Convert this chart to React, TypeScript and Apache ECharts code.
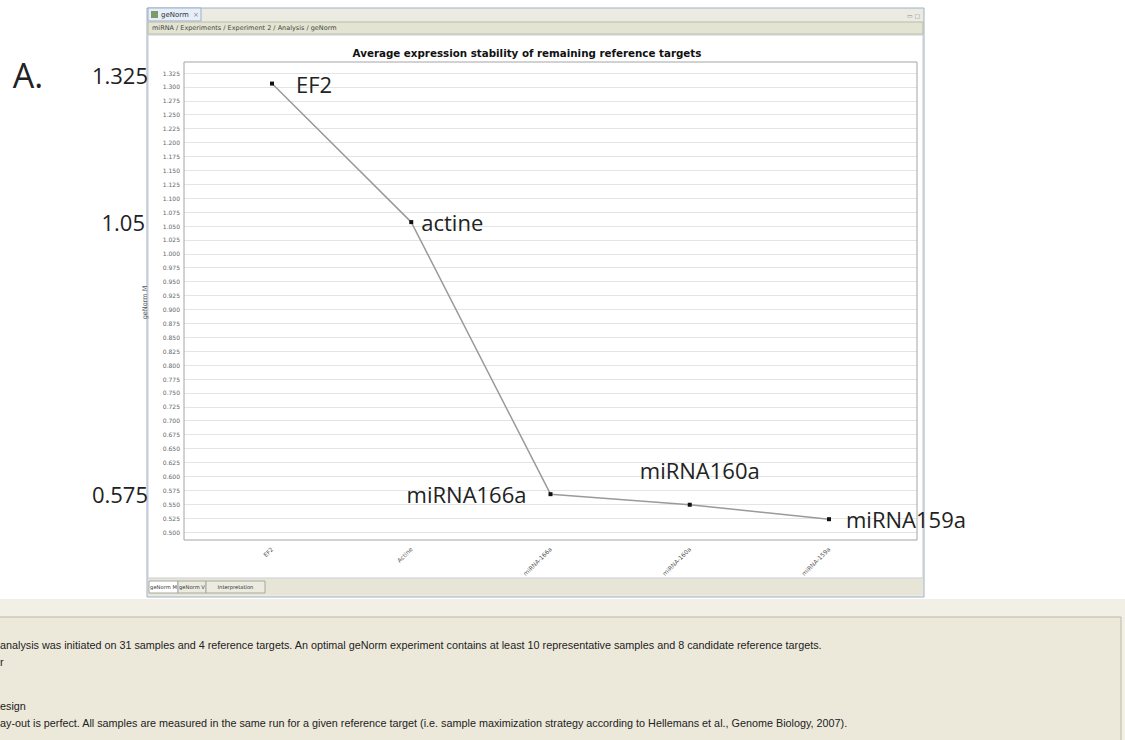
import React, { useEffect, useRef } from "react";
import * as echarts from "echarts";

const categories = ["EF2", "Actine", "miRNA-166a", "miRNA-160a", "miRNA-159a"];
const mValues = [1.306, 1.057, 0.568, 0.549, 0.523];
const annotations = ["EF2", "actine", "miRNA166a", "miRNA160a", "miRNA159a"];
const yMin = 0.5;
const yMax = 1.325;
const yStep = 0.025;
const valueCallouts = ["1.325", "1.05", "0.575"];
const chartTitle = "Average expression stability of remaining reference targets";
const yName = "geNorm M";
const breadcrumb = "miRNA / Experiments / Experiment 2 / Analysis / geNorm";
const bottomTabs = ["geNorm M", "geNorm V", "Interpretation"];
const panelLines = [
  "analysis was initiated on 31 samples and 4 reference targets. An optimal geNorm experiment contains at least 10 representative samples and 8 candidate reference targets.",
  "r",
  "esign",
  "ay-out is perfect. All samples are measured in the same run for a given reference target (i.e. sample maximization strategy according to Hellemans et al., Genome Biology, 2007).",
];

const W = 1125;
const H = 740;
const PL = 184, PR = 917, PT = 62, PB = 540; // plot frame
const GT = 73, GB = 532; // value range extent

export default function App() {
  const ref = useRef<HTMLDivElement>(null);
  useEffect(() => {
    if (!ref.current) return;
    const chart = echarts.init(ref.current, null, { renderer: "svg" });
    const labelCfg = [
      { position: "right", distance: 22 },
      { position: "right", distance: 8 },
      { position: "left", distance: 22 },
      { position: "top", distance: 22, offset: [10, 0] },
      { position: "right", distance: 15 },
    ];
    const seriesData = mValues.map((v, i) => ({
      value: v,
      label: {
        show: true,
        formatter: annotations[i],
        fontFamily: "Open Sans",
        fontSize: 22,
        color: "#222",
        ...labelCfg[i],
      },
    }));
    const small = "DejaVu Sans";
    const tabDefs = [
      { x: 149, w: 29, fill: "#ffffff" },
      { x: 178, w: 28, fill: "#ecebe0" },
      { x: 206, w: 59, fill: "#ecebe0" },
    ];
    const graphics: any[] = [
      // window frame
      { type: "rect", z: -10, shape: { x: 147, y: 8, width: 777, height: 589 }, style: { fill: "#ecebe2", stroke: "#9fb0c8", lineWidth: 1 } },
      { type: "rect", z: -9, shape: { x: 148, y: 8, width: 53, height: 13 }, style: { fill: "#e6eefa", stroke: "#9fb0c8", lineWidth: 1 } },
      { type: "rect", z: -8, shape: { x: 151, y: 11, width: 7, height: 7 }, style: { fill: "#7a9a6a" } },
      { type: "text", z: -8, style: { x: 161, y: 14.5, text: "geNorm", font: `7px ${small}`, fill: "#333", verticalAlign: "middle" } },
      { type: "text", z: -8, style: { x: 193, y: 14.5, text: "×", font: `7px ${small}`, fill: "#888", verticalAlign: "middle" } },
      { type: "text", z: -8, style: { x: 907, y: 15, text: "▭ ▢", font: `6px ${small}`, fill: "#888", verticalAlign: "middle" } },
      { type: "rect", z: -9, shape: { x: 148, y: 22, width: 775, height: 12 }, style: { fill: "#e3e4d2", stroke: "#b9bcaa", lineWidth: 1 } },
      { type: "text", z: -8, style: { x: 152, y: 28, text: breadcrumb, font: `6.5px ${small}`, fill: "#444", verticalAlign: "middle" } },
      { type: "rect", z: -9, shape: { x: 148, y: 35, width: 775, height: 543 }, style: { fill: "#ffffff", stroke: "#c9ccd4", lineWidth: 1 } },
      // bottom tabs
      { type: "rect", z: -9, shape: { x: 148, y: 579, width: 775, height: 16 }, style: { fill: "#e6e5d6" } },
      ...tabDefs.map((t) => ({ type: "rect", z: -8, shape: { x: t.x, y: 581, width: t.w, height: 12 }, style: { fill: t.fill, stroke: "#a8a8a0", lineWidth: 1 } })),
      ...tabDefs.map((t, i) => ({
        type: "text",
        z: -7,
        style: { x: t.x + t.w / 2, y: 587, text: bottomTabs[i], font: `5.2px ${small}`, fill: "#333", align: "center", verticalAlign: "middle" },
      })),
      // bottom panel
      { type: "rect", z: -10, shape: { x: 0, y: 599, width: W, height: H - 599 }, style: { fill: "#f1efe6" } },
      { type: "rect", z: -9, shape: { x: -2, y: 617, width: 1123, height: 130 }, style: { fill: "#ece9db", stroke: "#bdb9a6", lineWidth: 1 } },
      ...panelLines.map((t, i) => ({
        type: "text",
        z: -8,
        style: { x: 0, y: [645, 662, 706, 723][i], text: t, font: `10.8px "Liberation Sans"`, fill: "#222", verticalAlign: "middle" },
      })),
      // title
      { type: "text", z: 5, style: { x: 527, y: 53, text: chartTitle, font: `bold 10.3px ${small}`, fill: "#111", align: "center", verticalAlign: "middle" } },
      // plot frame
      { type: "rect", z: 5, shape: { x: PL, y: PT, width: PR - PL, height: PB - PT }, style: { fill: "none", stroke: "#a4a4a4", lineWidth: 1 } },
      // callouts
      { type: "text", z: 5, style: { x: 28, y: 75, text: "A.", font: `34px "Open Sans"`, fill: "#222", align: "center", verticalAlign: "middle" } },
      { type: "text", z: 5, style: { x: 148, y: 75, text: valueCallouts[0], font: `22px "Open Sans"`, fill: "#222", align: "right", verticalAlign: "middle" } },
      { type: "text", z: 5, style: { x: 145, y: 222, text: valueCallouts[1], font: `22px "Open Sans"`, fill: "#222", align: "right", verticalAlign: "middle" } },
      { type: "text", z: 5, style: { x: 148, y: 494, text: valueCallouts[2], font: `22px "Open Sans"`, fill: "#222", align: "right", verticalAlign: "middle" } },
    ];
    chart.setOption({
      animation: false,
      backgroundColor: "#ffffff",
      grid: [
        { left: PL, right: W - PR, top: GT, bottom: H - GB, containLabel: false },
        { left: 272, right: W - 829, top: GT, bottom: H - GB, containLabel: false },
      ],
      xAxis: [
        { type: "value", gridIndex: 0, show: false, min: 0, max: 1 },
        {
          type: "category",
          gridIndex: 1,
          data: categories,
          boundaryGap: false,
          axisLine: { show: false },
          axisTick: { show: false },
          splitLine: { show: false },
          axisLabel: { rotate: 45, fontSize: 6, color: "#555", fontFamily: small, margin: 16 },
        },
      ],
      yAxis: [
        {
          type: "value",
          gridIndex: 0,
          min: yMin,
          max: yMax,
          interval: yStep,
          name: yName,
          nameLocation: "middle",
          nameGap: 36,
          nameTextStyle: { fontSize: 6.5, color: "#555", fontFamily: small },
          axisLine: { show: false },
          axisTick: { show: false },
          axisLabel: { fontSize: 6, color: "#666", fontFamily: small, margin: 4, formatter: (v: number) => v.toFixed(3) },
          splitLine: { show: true, lineStyle: { color: "#e4e4e4", width: 1 } },
        },
        { type: "value", gridIndex: 1, min: yMin, max: yMax, show: false, splitLine: { show: false } },
      ],
      series: [
        {
          type: "line",
          xAxisIndex: 1,
          yAxisIndex: 1,
          data: seriesData,
          symbol: "rect",
          symbolSize: 4,
          itemStyle: { color: "#111" },
          lineStyle: { color: "#9a9a9a", width: 1.5 },
          z: 3,
        },
      ],
      graphic: { elements: graphics },
    });
    return () => chart.dispose();
  }, []);
  return <div ref={ref} style={{ position: "absolute", left: 0, top: 0, width: W, height: H }} />;
}
